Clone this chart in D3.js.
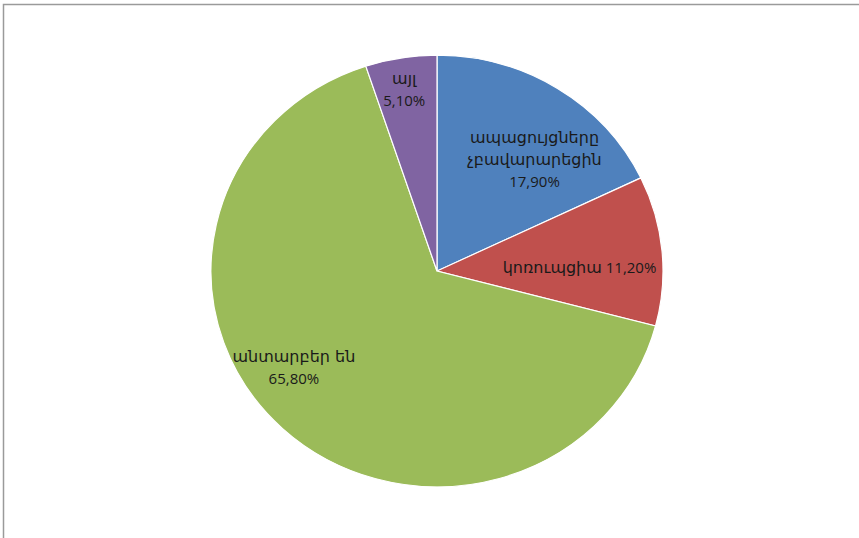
<!DOCTYPE html>
<html>
<head>
<meta charset="utf-8">
<script src="https://cdn.jsdelivr.net/npm/d3@7"></script>
<style>
  body { margin: 0; background: #fff; }
  text { fill: #1a1a1a; }
</style>
</head>
<body>
<script>
// Data
var categories = ["ապացույցները չբավարարեցին", "կոռուպցիա", "անտարբեր են", "այլ"];
var values = [17.9, 11.2, 65.8, 5.1];
var valueLabels = ["17,90%", "11,20%", "65,80%", "5,10%"];
var colors = ["#4F81BD", "#C0504D", "#9BBB59", "#8064A2"];

var width = 859, height = 538;
var cx = 437, cy = 271, r = 226, squash = 0.955;

var svg = d3.select("body").append("svg")
  .attr("width", width)
  .attr("height", height);

// chart frame
svg.append("rect")
  .attr("x", 3.5).attr("y", 4.5)
  .attr("width", width + 10).attr("height", height + 10)
  .attr("fill", "none")
  .attr("stroke", "#9a9a9a")
  .attr("stroke-width", 1.5);

var data = categories.map(function(c, i) {
  return { name: c, value: values[i], label: valueLabels[i], color: colors[i] };
});

var pie = d3.pie().sort(null).value(function(d) { return d.value; });
var arcs = pie(data);

var arc = d3.arc().innerRadius(0).outerRadius(r);

var g = svg.append("g")
  .attr("transform", "translate(" + cx + "," + cy + ") scale(1," + squash + ")");

g.selectAll("path")
  .data(arcs)
  .enter()
  .append("path")
  .attr("d", arc)
  .attr("fill", function(d) { return d.data.color; })
  .attr("stroke", "#fff")
  .attr("stroke-width", 1.2);

// labels: centroid on a ring, then nudged like Excel's best fit
var labelArc = d3.arc().innerRadius(r * 0.66).outerRadius(r * 0.66);
var nudges = [[18, 10], [-6, 10], [-41, -7], [-9, -40]];
var lineSets = [
  [["ապացույցները", "arm"], ["չբավարարեցին", "arm"], ["17,90%", "num"]],
  [["կոռուպցիա", "arm", "11,20%"]],
  [["անտարբեր են", "arm"], ["65,80%", "num"]],
  [["այլ", "arm"], ["5,10%", "num"]]
];
var lineH = 22;

arcs.forEach(function(d, i) {
  var c = labelArc.centroid(d);
  var x = cx + c[0] + nudges[i][0];
  var y = cy + c[1] * squash + nudges[i][1];
  var lines = lineSets[i];
  var t = svg.append("text")
    .attr("text-anchor", "middle")
    .attr("x", x)
    .attr("y", y - (lines.length - 1) * lineH / 2 + 5);
  lines.forEach(function(l, j) {
    var ts = t.append("tspan")
      .attr("x", x)
      .attr("dy", j === 0 ? 0 : lineH);
    ts.append("tspan")
      .style("font-family", l[1] === "arm" ? "'DejaVu Sans', sans-serif" : "'Open Sans', sans-serif")
      .style("font-size", l[1] === "arm" ? "16px" : "15px")
      .text(l[0]);
    if (l[2]) {
      ts.append("tspan")
        .style("font-family", "'Open Sans', sans-serif")
        .style("font-size", "15px")
        .text(" " + l[2]);
    }
  });
});
</script>
</body>
</html>
